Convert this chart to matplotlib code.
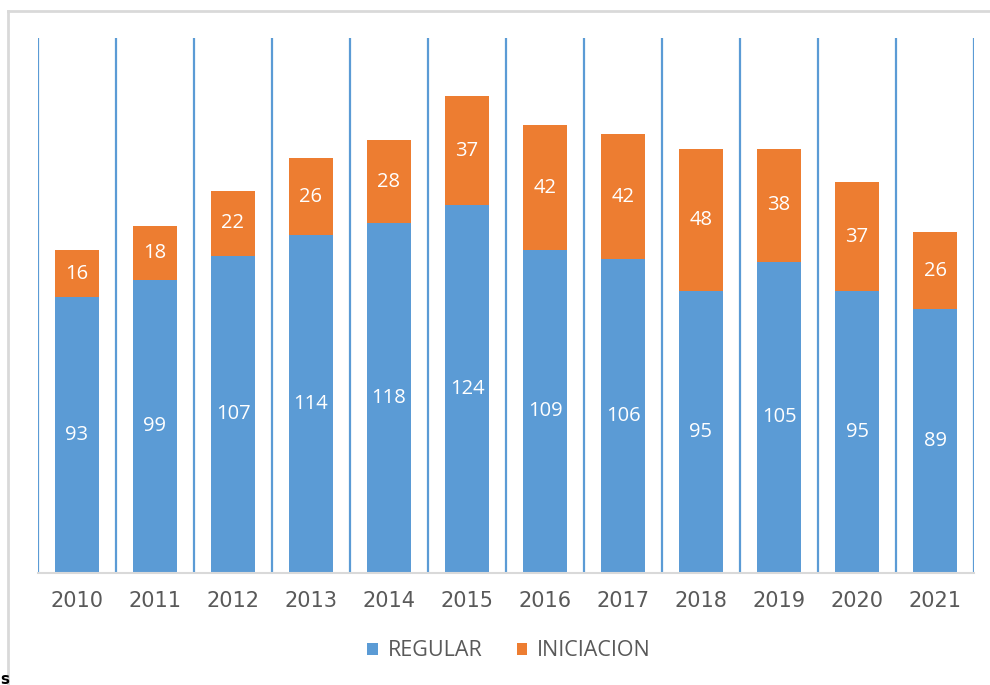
import numpy as np
import matplotlib.pyplot as plt
from matplotlib.lines import Line2D

years = ['2010', '2011', '2012', '2013', '2014', '2015',
         '2016', '2017', '2018', '2019', '2020', '2021']
regular = [93, 99, 107, 114, 118, 124, 109, 106, 95, 105, 95, 89]
iniciacion = [16, 18, 22, 26, 28, 37, 42, 42, 48, 38, 37, 26]

blue = '#5B9BD5'
orange = '#ED7D31'
txt_gray = '#595959'

fig = plt.figure(figsize=(9.9, 6.85), dpi=100)
ax = fig.add_axes([38 / 990, 112 / 685, 936 / 990, 535 / 685])

x = np.arange(len(years))
b1 = ax.bar(x, regular, width=0.56, color=blue, label='REGULAR', zorder=3)
b2 = ax.bar(x, iniciacion, width=0.56, bottom=regular, color=orange,
            label='INICIACION', zorder=3)

# value labels centred in each segment
for bars in (b1, b2):
    ax.bar_label(bars, label_type='center', color='white',
                 fontsize=14.5, family='Open Sans', zorder=4)

# vertical separators between categories
for xv in np.arange(-0.5, len(years), 1.0):
    ax.axvline(xv, color=blue, lw=1.6, zorder=1)

ax.set_xlim(-0.5, len(years) - 0.5)
ax.set_ylim(0, 180.5)
ax.set_yticks([])
for s in ('top', 'right', 'left'):
    ax.spines[s].set_visible(False)
ax.spines['bottom'].set_color('#D9D9D9')
ax.spines['bottom'].set_linewidth(1.5)
ax.spines['bottom'].set_zorder(5)

ax.set_xticks(x)
ax.set_xticklabels(years, fontsize=15, color=txt_gray, family='DejaVu Sans')
ax.tick_params(axis='x', length=0, pad=13)

ax.legend(loc='center', bbox_to_anchor=(0.514, 34 / 685),
          bbox_transform=fig.transFigure, ncol=2, frameon=False,
          prop={'family': 'Open Sans', 'size': 15.5},
          labelcolor=txt_gray, handlelength=0.5, handleheight=0.5,
          handletextpad=0.45, columnspacing=1.6)

# light frame round the chart (top and left edges visible)
fig.add_artist(Line2D([8 / 990, 1.0], [1 - 11 / 685, 1 - 11 / 685],
                      color='#D9D9D9', lw=2, transform=fig.transFigure))
fig.add_artist(Line2D([8 / 990, 8 / 990], [0, 1 - 11 / 685],
                      color='#D9D9D9', lw=2, transform=fig.transFigure))

fig.text(0.0, 0.002, 's', fontsize=11, fontweight='bold', color='black')

fig.savefig('out.png', dpi=100)
